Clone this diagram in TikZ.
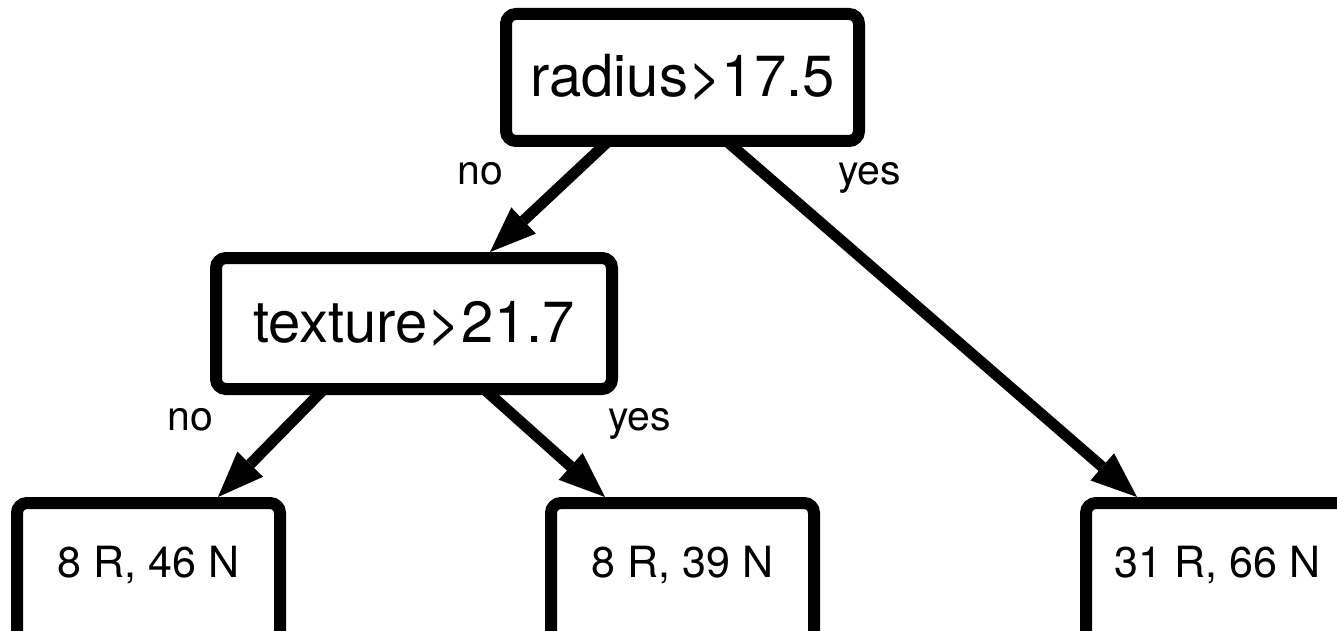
\documentclass[tikz,border=0pt]{standalone}
\usepackage{fontspec}
\setmainfont{TeX Gyre Heros}
\usetikzlibrary{arrows.meta}
\begin{document}
\begin{tikzpicture}[x=1pt,y=-1pt,
  nbox/.style={draw=black, line width=12pt, rounded corners=10pt, inner sep=0pt, outer sep=0pt, fill=white},
  testbox/.style={nbox, font=\fontsize{58}{60}\selectfont},
  leaf/.style={nbox, font=\fontsize{43}{45}\selectfont, minimum width=263pt,
    text height=74pt, text depth=90pt, anchor=north},
  lbl/.style={font=\fontsize{41}{43}\selectfont, anchor=base, inner sep=0pt},
  arrowline/.style={line width=11pt, -{Triangle[length=46pt,width=36pt,line width=0pt]}}
]
\useasboundingbox (0,0) rectangle (1337,631);
\fill[white] (0,0) rectangle (1337,631);
\clip (0,0) rectangle (1337,631);

% decision nodes
\node[testbox, minimum width=353pt, minimum height=127pt] (root) at (682.5,77.5) {radius>17.5};
\node[testbox, minimum width=396pt, minimum height=131pt] (tex) at (414,323.5) {texture>21.7};

% leaves
\node[leaf] (l1) at (148.5,503) {8 R, 46 N};
\node[leaf] (l2) at (682.5,503) {8 R, 39 N};
\node[leaf] (l3) at (1217.5,503) {31 R, 66 N};

% branches
\draw[arrowline] ([xshift=-74pt]root.south) -- ([xshift=76pt,yshift=6pt]tex.north);
\draw[arrowline] ([xshift=44pt]root.south) -- ([xshift=-80.5pt,yshift=6pt]l3.north);
\draw[arrowline] ([xshift=-90pt]tex.south) -- ([xshift=69.5pt,yshift=6pt]l1.north);
\draw[arrowline] ([xshift=70pt]tex.south) -- ([xshift=-77.5pt,yshift=6pt]l2.north);

% branch labels
\node[lbl] (n1) at (480,185) {no};
\node[lbl] (y1) at (869.5,185) {yes};
\node[lbl] (n2) at (190.5,430) {no};
\node[lbl] (y2) at (639.5,430) {yes};
\end{tikzpicture}
\end{document}
